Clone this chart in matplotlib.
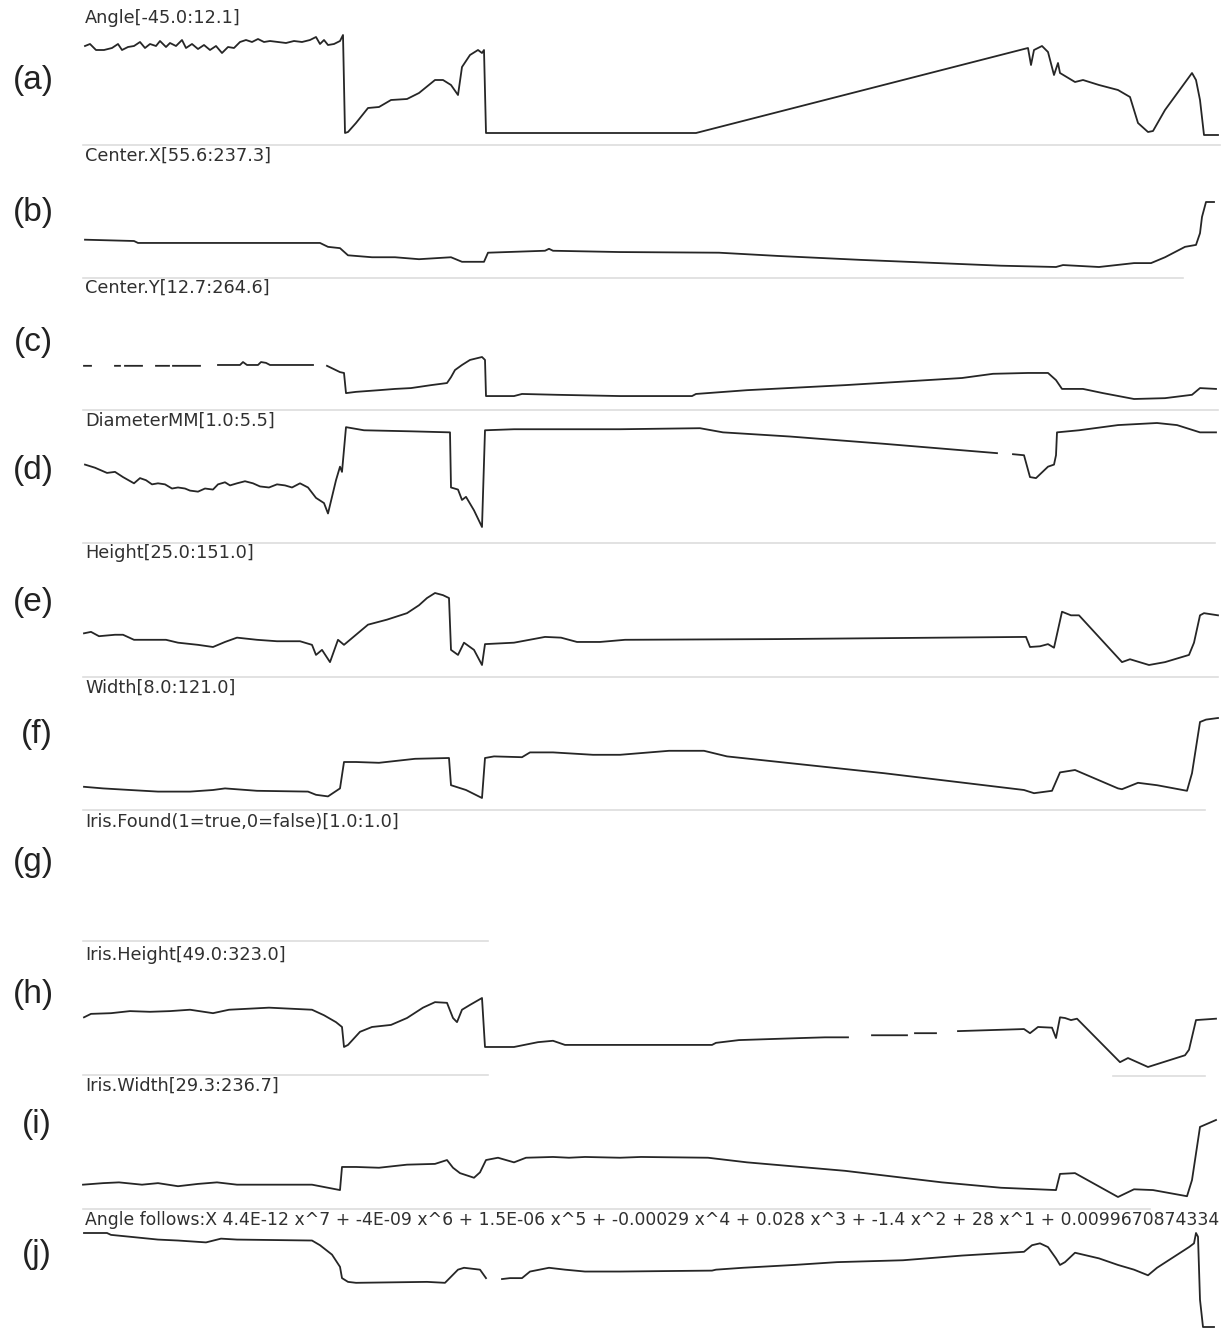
import numpy as np
import matplotlib.pyplot as plt
from matplotlib.lines import Line2D

nan = np.nan

# trace values: x = frame index, y = percent of each channel's [min:max] range
angle_x = [2,7,13,21,29,35,39,45,51,57,62,67,73,77,83,87,93,99,103,109,115,121,127,133,139,145,151,157,163,169,
           175,181,187,195,203,211,219,227,233,237,241,245,251,257,260,
           262,265,273,285,296,308,324,336,352,360,368,375,379,387,395,399,401,403,613,941,945,948,951,959,965,
           971,975,977,992,1000,1016,1035,1047,1055,1065,1070,1082,1109,1113,1117,1121,1135]
angle_y = [89,91,85,85,87,91,85,88,89,93,87,91,89,94,88,92,89,95,87,91,86,90,85,89,82,88,87,93,95,93,
           96,93,94,93,92,94,93,95,98,91,95,90,91,94,100,
           2,3,12,27,28,35,36,42,55,55,50,40,68,80,85,82,85,2,2,86,87,70,85,89,83,
           60,72,62,53,55,50,45,38,12,3,4,25,62,55,35,0,0]

cx_x = [2,51,55,237,245,257,265,289,312,336,368,379,401,405,462,466,470,537,636,695,777,918,973,980,1016,1051,1068,
        1082,1102,1113,1117,1119,1123,1131]
cx_y = [42,40,37,37,31,29,18,15,15,12,15,8,8,22,25,28,25,23,22,17,11,2,0,3,0,6,6,15,31,34,52,77,100,100]

cy_x = [1,8,20,32,37,40,42,59,66,73,86,88,90,117,126,135,157,160,164,175,178,183,187,230,237,
        244,257,261,263,273,296,312,328,348,364,368,372,379,387,399,402,403,431,439,474,537,609,613,664,762,879,
        910,945,965,973,979,1000,1020,1051,1082,1109,1117,1133]
cy_y = [79,79,nan,79,79,nan,79,79,nan,79,79,nan,79,79,nan,81,81,88,81,81,88,86,81,81,nan,
        79,64,62,14,17,21,24,26,33,38,52,69,81,93,100,93,7,7,12,10,7,7,12,21,33,50,
        60,62,62,45,24,24,14,0,2,10,26,24]

diam_x = [2,12,24,32,40,51,57,63,69,75,82,89,95,102,107,115,122,130,135,142,147,154,162,170,177,186,194,202,209,217,
          225,233,241,245,249,253,257,259,263,281,328,367,368,375,379,383,391,399,402,431,537,617,640,707,801,914,
          922,930,941,947,953,965,971,973,974,996,1035,1074,1094,1117,1133]
diam_y = [60,57,52,53,48,42,47,45,41,42,41,37,38,37,35,34,37,36,41,43,40,42,44,42,39,38,41,40,38,42,
          38,28,23,13,29,45,58,53,96,93,92,91,38,36,26,29,16,0,93,94,94,95,91,87,80,71,
          nan,70,69,48,47,58,60,69,91,93,98,100,98,91,91]

height_x = [1,8,16,32,40,51,83,95,115,130,142,154,174,194,217,229,233,239,247,255,261,273,285,304,324,336,344,352,
            360,366,368,375,381,391,399,402,431,462,478,494,517,542,695,859,943,947,957,965,971,979,988,996,1039,
            1047,1066,1082,1106,1111,1117,1121,1135]
height_y = [44,46,40,42,42,35,35,31,28,25,32,38,35,33,33,28,14,21,4,35,28,42,56,63,72,83,93,100,
            97,93,21,14,31,21,0,29,31,39,38,32,32,35,36,38,39,25,26,29,24,74,69,69,4,
            8,0,4,14,31,69,72,69]

width_x = [1,20,47,75,107,130,142,174,225,233,245,257,261,273,296,332,366,368,383,399,402,411,439,447,470,510,537,
           586,621,644,801,941,951,969,977,992,1035,1039,1055,1074,1104,1109,1117,1123,1135]
width_y = [14,12,10,8,8,10,12,9,8,4,2,12,45,45,44,49,50,16,10,0,50,52,51,57,57,54,54,
           59,59,52,31,10,6,9,32,35,12,11,19,16,9,31,95,98,100]

iris_h_x = [1,8,28,47,67,87,107,130,146,186,229,241,253,259,261,265,277,289,308,324,340,352,364,370,374,379,387,399,
            402,431,455,470,482,537,629,633,656,719,742,765,777,789,824,828,832,853,864,875,941,947,955,969,973,977,
            982,988,994,1037,1045,1065,1102,1106,1113,1133]
iris_h_y = [72,77,78,81,80,81,83,78,83,86,83,75,65,58,29,32,51,58,61,71,86,94,93,71,65,83,90,100,
            29,29,36,38,32,32,32,35,39,42,43,43,nan,46,46,nan,49,49,nan,52,55,49,58,57,42,72,
            71,68,70,7,13,0,17,25,68,70]

iris_w_x = [0,20,36,59,75,95,115,134,154,194,229,241,257,259,273,296,324,352,364,370,377,391,397,403,415,431,443,470,
            486,502,537,558,625,664,762,859,918,973,977,992,1035,1051,1070,1104,1109,1117,1133]
iris_w_y = [16,18,19,16,18,14,17,19,16,16,16,13,9,39,39,38,42,43,48,38,31,25,32,48,51,45,51,52,
            51,52,51,52,51,45,34,19,12,9,30,31,0,10,9,1,22,91,100]

fit_x = [1,24,28,47,75,95,123,138,154,229,237,249,257,259,265,273,344,362,375,381,397,403,407,419,427,439,447,466,
         482,502,537,629,633,660,711,754,820,879,941,949,957,965,973,977,982,992,1016,1035,1051,1065,1074,1106,
         1111,1113,1115,1117,1120,1131]
fit_y = [100,100,98,96,93,92,90,94,93,92,87,77,64,52,48,47,48,47,61,63,61,52,nan,51,52,52,59,63,
         61,59,59,60,61,63,66,69,71,76,80,87,89,85,73,66,69,79,73,66,61,55,63,85,
         89,100,96,29,0,0]

labels = ["Angle[-45.0:12.1]", "Center.X[55.6:237.3]", "Center.Y[12.7:264.6]", "DiameterMM[1.0:5.5]",
          "Height[25.0:151.0]", "Width[8.0:121.0]", "Iris.Found(1=true,0=false)[1.0:1.0]",
          "Iris.Height[49.0:323.0]", "Iris.Width[29.3:236.7]",
          "Angle follows:X 4.4E-12 x^7 + -4E-09 x^6 + 1.5E-06 x^5 + -0.00029 x^4 + 0.028 x^3 + -1.4 x^2 + 28 x^1 + 0.0099670874334"]
letters = ["(a)", "(b)", "(c)", "(d)", "(e)", "(f)", "(g)", "(h)", "(i)", "(j)"]

W, H = 1223, 1332
fig = plt.figure(figsize=(W / 100, H / 100), dpi=100)
fig.patch.set_facecolor("white")


def fx(px):
    return px / W


def fy(py):
    return 1 - py / H


def panel(top, bottom):
    ax = fig.add_axes([fx(83), fy(bottom), 1137 / W, (bottom - top) / H])
    ax.set_xlim(0, 1137)
    ax.set_ylim(0, 100)
    ax.axis("off")
    return ax


traces = [(angle_x, angle_y, 35, 135), (cx_x, cx_y, 202, 267), (cy_x, cy_y, 357, 399),
          (diam_x, diam_y, 423, 527), (height_x, height_y, 593, 665), (width_x, width_y, 718, 798),
          None, (iris_h_x, iris_h_y, 998, 1067), (iris_w_x, iris_w_y, 1120, 1197), (fit_x, fit_y, 1233, 1327)]

for t in traces:
    if t is None:
        continue
    ax = panel(t[2], t[3])
    ax.plot(t[0], t[1], color="#262626", lw=1.3, clip_on=False)

# light grey channel separators
seps = [(145, 83, 1220), (278, 83, 1183), (410, 83, 1218), (543, 83, 1215), (677, 83, 1218),
        (810, 83, 1205), (941, 83, 488), (1075, 83, 488), (1076, 1113, 1205), (1209, 83, 1150)]
for y, x0, x1 in seps:
    fig.add_artist(Line2D([fx(x0), fx(x1)], [fy(y), fy(y)], color="#dddddd", lw=1.2))

label_y = [18, 156, 288, 421, 553, 688, 822, 955, 1086, 1220]
letter_y = [80, 212, 343, 470, 603, 735, 862, 995, 1125, 1255]
letter_x = [33, 33, 33, 33, 33, 37, 33, 33, 37, 37]

for i in range(10):
    fs = 12.8 if i < 9 else 12.45
    fig.text(fx(85), fy(label_y[i]), labels[i], ha="left", va="center", fontsize=fs, color="#303030",
             family=["Liberation Sans Narrow", "DejaVu Sans"])
    fig.text(fx(letter_x[i]), fy(letter_y[i]), letters[i], ha="center", va="center", fontsize=24,
             color="#222222", family=["Liberation Sans", "DejaVu Sans"])

fig.savefig("out.png", dpi=100)
